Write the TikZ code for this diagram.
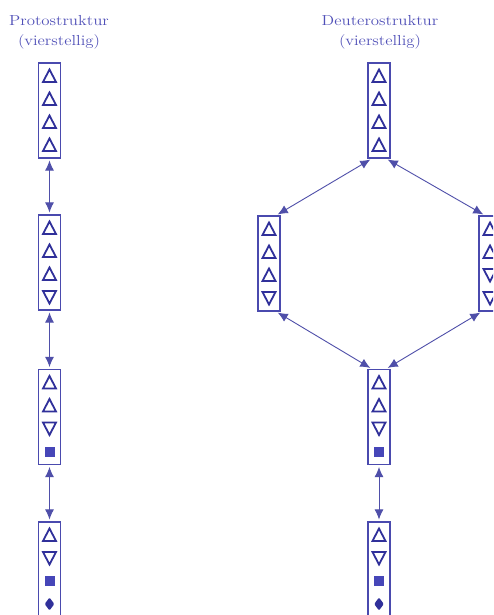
\documentclass[tikz,border=0pt]{standalone}
\usepackage{fontspec}
\usetikzlibrary{arrows.meta,calc}
\definecolor{boxc}{HTML}{4A4AAE}
\definecolor{symc}{HTML}{30309A}
\definecolor{sqc}{HTML}{4646B8}
\definecolor{txtc}{HTML}{5050B8}
\newcommand\wide[1]{\scalebox{1.16}[1]{#1}}
\tikzset{
  sbox/.style={draw=boxc,line width=1.1pt,minimum width=22pt,minimum height=95pt,inner sep=0pt},
  link/.style={draw=symc!85,line width=0.9pt,{Latex[length=10pt,width=9pt]}-{Latex[length=10pt,width=9pt]},shorten <=2pt,shorten >=2pt},
  ttl/.style={text=txtc,font=\fontsize{14.5}{20}\selectfont,align=center},
  up/.pic={\draw[symc,line width=1.8pt,line join=miter] (-6.5,6)--(6.5,6)--(0,-6.5)--cycle;},
  down/.pic={\draw[symc,line width=1.8pt,line join=miter] (-6.5,-6)--(6.5,-6)--(0,6.5)--cycle;},
  sq/.pic={\fill[sqc] (-5,-5) rectangle (5,5);},
  dia/.pic={\fill[symc,rounded corners=1.2pt] (0,-6.5)--(4.8,0)--(0,6.5)--(-4.8,0)--cycle;},
}
\newcommand\symbox[4]{%
  \node[sbox] (#1) at (#2,#3) {};
  \foreach \s [count=\i] in {#4} \pic at ($(#1.center)+(0,{-34.5+23*(\i-1)})$) {\s};
}
\begin{document}
\begin{tikzpicture}[x=1pt,y=-1pt]
\useasboundingbox (0,0) rectangle (493,615);
\fill[white] (0,0) rectangle (493,615);
\clip (0,0) rectangle (493,615);
\node[ttl] (t1) at (59,32) {\wide{Protostruktur}\\\wide{(vierstellig)}};
\node[ttl] (t2) at (380,32) {\wide{Deuterostruktur}\\\wide{(vierstellig)}};
\symbox{L1}{49.5}{110.5}{up,up,up,up}
\symbox{L2}{49.5}{262.5}{up,up,up,down}
\symbox{L3}{49.5}{417}{up,up,down,sq}
\symbox{L4}{49.5}{569.5}{up,down,sq,dia}
\symbox{T}{379}{110.5}{up,up,up,up}
\symbox{HL}{269}{263.5}{up,up,up,down}
\symbox{HR}{490}{263.5}{up,up,down,down}
\symbox{B}{379}{417}{up,up,down,sq}
\symbox{BB}{379}{569.5}{up,down,sq,dia}
\draw[link] (L1) -- (L2);
\draw[link] (L2) -- (L3);
\draw[link] (L3) -- (L4);
\draw[link] ([xshift=-7pt]T.south) -- ([xshift=7pt]HL.north);
\draw[link] ([xshift=7pt]T.south) -- ([xshift=-5pt]HR.north);
\draw[link] ([xshift=7pt]HL.south) -- ([xshift=-7pt]B.north);
\draw[link] ([xshift=-8pt]HR.south) -- ([xshift=7pt]B.north);
\draw[link] (B) -- (BB);
\end{tikzpicture}
\end{document}
